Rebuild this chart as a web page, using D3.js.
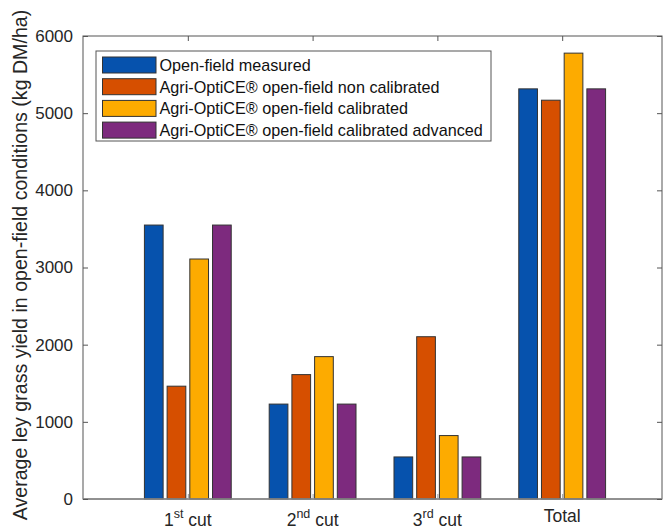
<!DOCTYPE html>
<html>
<head>
<meta charset="utf-8">
<script src="https://cdn.jsdelivr.net/npm/d3@7"></script>
<style>
html,body{margin:0;padding:0;background:#fff;}
svg{display:block;font-family:"Liberation Sans",Arial,Helvetica,sans-serif;}
</style>
</head>
<body>
<svg id="chart" width="663" height="531"></svg>
<script>
const categories = ["1st cut", "2nd cut", "3rd cut", "Total"];
const catBase = ["1", "2", "3", "Total"];
const catSup = ["st", "nd", "rd", ""];
const seriesNames = [
  "Open-field measured",
  "Agri-OptiCE\u00AE open-field non calibrated",
  "Agri-OptiCE\u00AE open-field calibrated",
  "Agri-OptiCE\u00AE open-field calibrated advanced"
];
const measured = [3550, 1230, 545, 5315];
const nonCalibrated = [1462, 1612, 2103, 5168];
const calibrated = [3110, 1845, 822, 5778];
const calibratedAdvanced = [3550, 1230, 545, 5315];
const colors = ["#0652ad", "#d64f00", "#fdab00", "#7d2a7e"];
const yTicks = [0, 1000, 2000, 3000, 4000, 5000, 6000];
const yLabel = "Average ley grass yield in open-field conditions (kg DM/ha)";

const seriesValues = [measured, nonCalibrated, calibrated, calibratedAdvanced];

const svg = d3.select("#chart");
const mLeft = 83, mRight = 662, mTop = 36, mBottom = 499;

const x = d3.scaleLinear().domain([0.16, 4.8]).range([mLeft, mRight]);
const y = d3.scaleLinear().domain([0, 6000]).range([mBottom, mTop]);
const inner = d3.scaleBand().domain(d3.range(seriesNames.length))
  .range([-45.4, 45.4]).paddingInner(0.176).paddingOuter(0.088);

// bars
seriesValues.forEach((vals, si) => {
  svg.append("g").selectAll("rect").data(vals).join("rect")
    .attr("x", (d, i) => x(i + 1) + inner(si))
    .attr("y", d => y(d))
    .attr("width", inner.bandwidth())
    .attr("height", d => y(0) - y(d))
    .attr("fill", colors[si])
    .attr("stroke", "#333")
    .attr("stroke-width", 1);
});

const axisColor = "#555";
const tickLen = 5;

// axis box
svg.append("rect").attr("x", mLeft).attr("y", mTop)
  .attr("width", mRight - mLeft).attr("height", mBottom - mTop)
  .attr("fill", "none").attr("stroke", axisColor).attr("stroke-width", 1);
svg.append("line").attr("x1", mLeft).attr("x2", mRight).attr("y1", mBottom).attr("y2", mBottom)
  .attr("stroke", "#888").attr("stroke-width", 1.5);

// y axis
const yAxis = d3.axisLeft(y).tickValues(yTicks).tickFormat(d3.format("d"))
  .tickSizeInner(-tickLen).tickSizeOuter(0).tickPadding(10);
const gy = svg.append("g").attr("transform", `translate(${mLeft},0)`).call(yAxis);
gy.select(".domain").remove();
gy.selectAll(".tick line").attr("stroke", axisColor);
gy.selectAll(".tick text").attr("font-size", 17).attr("fill", "#262626")
  .attr("font-family", "Liberation Sans, Arial, sans-serif");

const yAxisR = d3.axisRight(y).tickValues(yTicks).tickSizeInner(-tickLen).tickSizeOuter(0).tickFormat("");
const gyr = svg.append("g").attr("transform", `translate(${mRight},0)`).call(yAxisR);
gyr.select(".domain").remove();
gyr.selectAll(".tick line").attr("stroke", axisColor);

// x ticks (top and bottom inside)
const xTop = d3.axisTop(x).tickValues([1, 2, 3, 4]).tickSizeInner(-tickLen).tickSizeOuter(0).tickFormat("");
const gxt = svg.append("g").attr("transform", `translate(0,${mTop})`).call(xTop);
gxt.select(".domain").remove();
gxt.selectAll(".tick line").attr("stroke", axisColor);

const xBot = d3.axisBottom(x).tickValues([1, 2, 3, 4]).tickSizeInner(-tickLen).tickSizeOuter(0).tickFormat("");
const gxb = svg.append("g").attr("transform", `translate(0,${mBottom})`).call(xBot);
gxb.select(".domain").remove();
gxb.selectAll(".tick line").attr("stroke", "#999");

// x labels with superscripts
const xl = svg.append("g").selectAll("text").data(categories).join("text")
  .attr("x", (d, i) => x(i + 1))
  .attr("y", 526)
  .attr("text-anchor", "middle")
  .attr("font-size", 17.5)
  .attr("fill", "#262626");
xl.each(function(d, i) {
  const t = d3.select(this);
  if (catSup[i]) {
    t.append("tspan").text(catBase[i]);
    t.append("tspan").text(catSup[i]).attr("font-size", 12.5).attr("dy", -8);
    t.append("tspan").text(" cut").attr("dy", 8);
  } else {
    t.append("tspan").text(catBase[i]).attr("dy", -4);
  }
});

// y label
svg.append("text")
  .attr("transform", `translate(27,265) rotate(-90)`)
  .attr("text-anchor", "middle")
  .attr("font-size", 19.6)
  .attr("fill", "#262626")
  .text(yLabel);

// legend
const lg = svg.append("g");
lg.append("rect").attr("x", 96).attr("y", 51).attr("width", 395).attr("height", 90)
  .attr("fill", "#fff").attr("stroke", "#555").attr("stroke-width", 1);
seriesNames.forEach((name, i) => {
  const ry = 57 + i * 21.7;
  lg.append("rect").attr("x", 102.5).attr("y", ry).attr("width", 53.5).attr("height", 16)
    .attr("fill", colors[i]).attr("stroke", "#333").attr("stroke-width", 1);
  lg.append("text").attr("x", 159.5).attr("y", ry + 13.8)
    .attr("font-size", 16.2).attr("fill", "#111").text(name);
});
</script>
</body>
</html>
